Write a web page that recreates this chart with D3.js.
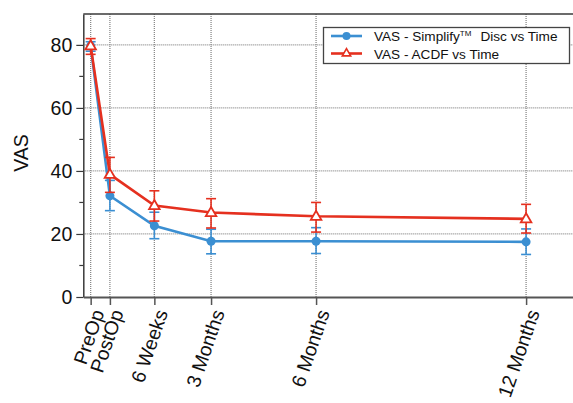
<!DOCTYPE html>
<html><head><meta charset="utf-8">
<script src="https://cdn.jsdelivr.net/npm/d3@7"></script>
<style>
body{margin:0;background:#fff;}
svg{display:block;font-family:"Liberation Sans",Arial,Helvetica,sans-serif;}
</style></head>
<body><svg id="c" width="573" height="403"></svg>
<script>
const categories = ["PreOp","PostOp","6 Weeks","3 Months","6 Months","12 Months"];
const timeMonths = [-0.44, 0.11, 1.38, 3, 6, 12];
const simplifyMean = [79.7, 32.1, 22.6, 17.7, 17.7, 17.5];
const simplifyLow  = [78.0, 27.4, 18.5, 13.7, 13.8, 13.5];
const simplifyHigh = [81.0, 37.0, 26.9, 21.5, 22.0, 21.6];
const acdfMean = [79.7, 38.9, 29.0, 26.8, 25.6, 24.8];
const acdfLow  = [77.0, 33.2, 24.1, 21.9, 20.6, 20.3];
const acdfHigh = [82.0, 44.3, 33.7, 31.2, 30.0, 29.4];
const yMajorTicks = [0, 20, 40, 60, 80];
const yMinorTicks = [10, 30, 50, 70];
const seriesNames = ["VAS - Simplify", "VAS - ACDF vs Time"];

const blue = "#3b8fd2", red = "#e5301f", axisCol = "#3a3a3a", gridCol = "#8a8a8a";
const svg = d3.select("#c");
const x = d3.scaleLinear().domain([-0.65, 13.34]).range([83.3, 573]);
const y = d3.scaleLinear().domain([0, 89.8]).range([297, 14]);

// grid
const grid = svg.append("g");
grid.selectAll("line.gy").data(yMajorTicks.filter(d=>d>0)).join("line")
  .attr("x1", x(-0.65)).attr("x2", 573).attr("y1", d=>y(d)).attr("y2", d=>y(d))
  .attr("stroke", gridCol).attr("stroke-width", 1.3).attr("stroke-dasharray", "1,1");
grid.selectAll("line.gx").data(timeMonths).join("line")
  .attr("x1", d=>x(d)).attr("x2", d=>x(d)).attr("y1", y(0)).attr("y2", y(89.8))
  .attr("stroke", gridCol).attr("stroke-width", 1.3).attr("stroke-dasharray", "1,1");

// top frame
svg.append("line").attr("x1", x(-0.65)).attr("x2", 573).attr("y1", y(89.8)).attr("y2", y(89.8))
  .attr("stroke", axisCol).attr("stroke-width", 1.5);

// y axis
const yAxis = svg.append("g").attr("transform", `translate(${x(-0.65)},0)`)
  .call(d3.axisLeft(y).tickValues(yMajorTicks).tickSize(7).tickSizeOuter(0).tickPadding(4));
yAxis.selectAll(".tick text").attr("font-size", 19.5).attr("fill", "#111");
yAxis.append("g").selectAll("line").data(yMinorTicks).join("line")
  .attr("x1", -4).attr("x2", 0).attr("y1", d=>y(d)).attr("y2", d=>y(d)).attr("stroke", axisCol).attr("stroke-width", 1.2);
yAxis.select(".domain").attr("stroke", axisCol).attr("stroke-width", 1.5);
yAxis.selectAll(".tick line").attr("stroke", axisCol).attr("stroke-width", 1.2);

// x axis
const xAxis = svg.append("g").attr("transform", `translate(0,${y(0)})`)
  .call(d3.axisBottom(x).tickValues(timeMonths).tickFormat((d,i)=>categories[i]).tickSize(8).tickSizeOuter(0));
xAxis.select(".domain").attr("stroke", "#555").attr("stroke-width", 2);
xAxis.selectAll(".tick line").attr("stroke", "#555").attr("stroke-width", 1.5);
xAxis.selectAll(".tick text").attr("font-size", 19.5).attr("fill", "#111")
  .attr("text-anchor", "end").attr("dy", "0.72em")
  .attr("transform", "translate(0,11) rotate(-71)").attr("x", 0).attr("y", 0);

// y label
svg.append("text").attr("transform", "translate(28,153) rotate(-90)")
  .attr("text-anchor", "middle").attr("font-size", 19.5).attr("fill", "#111").text("VAS");

function drawSeries(mean, lo, hi, color, marker) {
  const g = svg.append("g");
  const line = d3.line().x((d,i)=>x(timeMonths[i])).y(d=>y(d));
  g.append("path").datum(mean).attr("d", line).attr("fill", "none")
    .attr("stroke", color).attr("stroke-width", 2.6);
  const idx = d3.range(mean.length);
  g.selectAll("line.eb").data(idx).join("line")
    .attr("x1", i=>x(timeMonths[i])).attr("x2", i=>x(timeMonths[i]))
    .attr("y1", i=>y(lo[i])).attr("y2", i=>y(hi[i])).attr("stroke", color).attr("stroke-width", 1.6);
  [lo, hi].forEach(arr => {
    g.selectAll(null).data(idx).join("line")
      .attr("x1", i=>x(timeMonths[i])-5).attr("x2", i=>x(timeMonths[i])+5)
      .attr("y1", i=>y(arr[i])).attr("y2", i=>y(arr[i])).attr("stroke", color).attr("stroke-width", 1.6);
  });
  if (marker === "circle") {
    g.selectAll("circle").data(idx).join("circle")
      .attr("cx", i=>x(timeMonths[i])).attr("cy", i=>y(mean[i])).attr("r", 4.5).attr("fill", color);
  } else {
    const tri = d3.symbol().type(d3.symbolTriangle).size(48);
    g.selectAll("path.m").data(idx).join("path")
      .attr("transform", i=>`translate(${x(timeMonths[i])},${y(mean[i])+0.5})`)
      .attr("d", tri).attr("fill", "#fff").attr("stroke", color).attr("stroke-width", 1.8);
  }
}
drawSeries(simplifyMean, simplifyLow, simplifyHigh, blue, "circle");
drawSeries(acdfMean, acdfLow, acdfHigh, red, "triangle");

// legend
const lg = svg.append("g");
lg.append("rect").attr("x", 323.5).attr("y", 27.5).attr("width", 246).attr("height", 36)
  .attr("fill", "#fff").attr("stroke", "#444").attr("stroke-width", 1.3);
lg.append("line").attr("x1", 331).attr("x2", 362).attr("y1", 36).attr("y2", 36).attr("stroke", blue).attr("stroke-width", 2.6);
lg.append("circle").attr("cx", 346.5).attr("cy", 36).attr("r", 4).attr("fill", blue);
lg.append("line").attr("x1", 331).attr("x2", 362).attr("y1", 53.5).attr("y2", 53.5).attr("stroke", red).attr("stroke-width", 2.6);
lg.append("path").attr("transform", "translate(346.5,53.5)").attr("d", d3.symbol().type(d3.symbolTriangle).size(30))
  .attr("fill", "#fff").attr("stroke", red).attr("stroke-width", 1.6);
const t1 = lg.append("text").attr("x", 374).attr("y", 41).attr("font-size", 13.6).attr("fill", "#111");
t1.append("tspan").text(seriesNames[0]);
t1.append("tspan").attr("font-size", 8).attr("dy", -5).text("TM");
t1.append("tspan").attr("dy", 5).attr("dx", 9).text("Disc vs Time");
lg.append("text").attr("x", 374).attr("y", 58.5).attr("font-size", 13.6).attr("fill", "#111").text(seriesNames[1]);
</script></body></html>
